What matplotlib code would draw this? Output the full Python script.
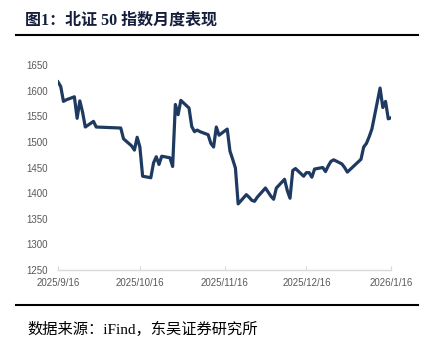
import numpy as np
import pandas as pd
import matplotlib
matplotlib.use("Agg")
import matplotlib.pyplot as plt
import matplotlib.dates as mdates
from matplotlib.lines import Line2D

# 北证50 日收盘
dates = [
    "2025-09-16", "2025-09-17", "2025-09-18", "2025-09-19", "2025-09-22", "2025-09-23",
    "2025-09-24", "2025-09-25", "2025-09-26", "2025-09-29", "2025-09-30", "2025-10-09",
    "2025-10-10", "2025-10-13", "2025-10-14", "2025-10-15", "2025-10-16", "2025-10-17",
    "2025-10-20", "2025-10-21", "2025-10-22", "2025-10-23", "2025-10-24", "2025-10-27",
    "2025-10-28", "2025-10-29", "2025-10-30", "2025-10-31", "2025-11-03", "2025-11-04",
    "2025-11-05", "2025-11-06", "2025-11-07", "2025-11-10", "2025-11-11", "2025-11-12",
    "2025-11-13", "2025-11-14", "2025-11-17", "2025-11-18", "2025-11-19", "2025-11-20",
    "2025-11-21", "2025-11-24", "2025-11-25", "2025-11-26", "2025-11-27", "2025-11-28",
    "2025-12-01", "2025-12-02", "2025-12-03", "2025-12-04", "2025-12-05", "2025-12-08",
    "2025-12-09", "2025-12-10", "2025-12-11", "2025-12-12", "2025-12-15", "2025-12-16",
    "2025-12-17", "2025-12-18", "2025-12-19", "2025-12-22", "2025-12-23", "2025-12-24",
    "2025-12-25", "2025-12-26", "2025-12-29", "2025-12-30", "2025-12-31", "2026-01-05",
    "2026-01-06", "2026-01-07", "2026-01-08", "2026-01-09", "2026-01-12", "2026-01-13",
    "2026-01-14", "2026-01-15", "2026-01-16",
]
close = [
    1617, 1608, 1579, 1582, 1588, 1546,
    1580, 1558, 1529, 1540, 1529, 1527,
    1506, 1492, 1484, 1509, 1490, 1433,
    1430, 1459, 1471, 1456, 1472, 1469,
    1452, 1573, 1553, 1581, 1566, 1530,
    1520, 1523, 1520, 1514, 1497, 1490,
    1529, 1513, 1525, 1482, 1466, 1449,
    1379, 1397, 1392, 1386, 1384, 1392,
    1410, 1402, 1394, 1388, 1410, 1427,
    1405, 1390, 1444, 1448, 1433, 1440,
    1440, 1431, 1447, 1450, 1442, 1453,
    1462, 1465, 1457, 1450, 1441, 1466,
    1490, 1497, 1510, 1525, 1605, 1567,
    1579, 1545, 1547,
]
y_ticks = [1250, 1300, 1350, 1400, 1450, 1500, 1550, 1600, 1650]
x_ticks = ["2025-09-16", "2025-10-16", "2025-11-16", "2025-12-16", "2026-01-16"]
x_labels = ["2025/9/16", "2025/10/16", "2025/11/16", "2025/12/16", "2026/1/16"]

TITLE = "图1：北证 50 指数月度表现"
SOURCE = "数据来源：iFind，东吴证券研究所"
CJK = ["Liberation Serif", "Noto Sans CJK SC"]

W, H = 431, 345
fig = plt.figure(figsize=(W / 100, H / 100), dpi=100)

# 坐标区: 像素位置换算成 figure 比例
x0, x1, ytop, ybot = 58, 391, 65, 270
ax = fig.add_axes([x0 / W, 1 - ybot / H, (x1 - x0) / W, (ybot - ytop) / H])

d = pd.to_datetime(dates)
ax.plot(d, close, color="#1F3A60", lw=2.3, solid_joinstyle="round")

ax.set_ylim(1250, 1650)
ax.set_yticks(y_ticks)
ax.set_xlim(pd.Timestamp(x_ticks[0]), pd.Timestamp(x_ticks[-1]))
ax.set_xticks(pd.to_datetime(x_ticks))
ax.set_xticklabels(x_labels)

for s in ("top", "right", "left"):
    ax.spines[s].set_visible(False)
ax.spines["bottom"].set_color("#D9D9D9")
ax.spines["bottom"].set_linewidth(1.0)
ax.tick_params(axis="y", length=0, pad=7, labelsize=7, labelcolor="#595959")
ax.tick_params(axis="x", direction="in", length=3, color="#D9D9D9", pad=6,
               labelsize=7, labelcolor="#595959")
for lab in ax.get_xticklabels() + ax.get_yticklabels():
    lab.set_family("Liberation Sans")

# 标题与来源, 上下两条黑线
fig.text(25 / W, 1 - 21 / H, TITLE, family=CJK, fontsize=11.5, fontweight="bold",
         color="#141E3C", va="center", ha="left")
fig.add_artist(Line2D([16 / W, 418 / W], [1 - 35 / H] * 2, color="black", lw=1.5))
fig.add_artist(Line2D([16 / W, 418 / W], [1 - 305 / H] * 2, color="black", lw=1.5))
fig.text(27 / W, 1 - 329 / H, SOURCE, family=CJK, fontsize=11, color="black",
         va="center", ha="left")

fig.savefig("out.png", dpi=100)
